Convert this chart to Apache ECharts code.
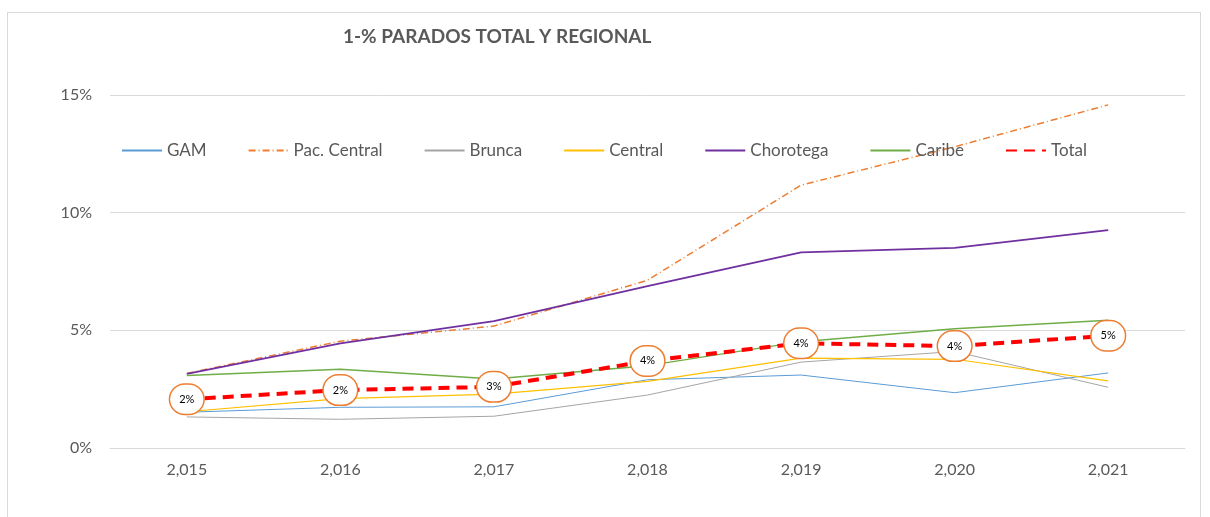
<!DOCTYPE html>
<html>
<head>
<meta charset="utf-8">
<script src="https://cdn.jsdelivr.net/npm/echarts@6/dist/echarts.min.js"></script>
<style>
  html, body { margin: 0; padding: 0; background: #fff; }
  #frame { position: absolute; left: 7px; top: 12px; width: 1194px; height: 520px; border: 1px solid #d9d9d9; box-sizing: border-box; }
  #main { position: absolute; left: 0; top: 0; width: 1210px; height: 517px; }
</style>
</head>
<body>
<div id="frame"></div>
<div id="main"></div>
<script>
// datos (porcentaje de parados)
var years = ['2,015', '2,016', '2,017', '2,018', '2,019', '2,020', '2,021'];
var gam = [1.52, 1.73, 1.75, 2.9, 3.1, 2.35, 3.19];
var pacCentral = [3.17, 4.54, 5.18, 7.13, 11.17, 12.8, 14.58];
var brunca = [1.32, 1.22, 1.35, 2.25, 3.65, 4.1, 2.58];
var central = [1.54, 2.1, 2.29, 2.83, 3.82, 3.77, 2.85];
var chorotega = [3.15, 4.45, 5.39, 6.88, 8.31, 8.5, 9.26];
var caribe = [3.08, 3.35, 2.93, 3.5, 4.52, 5.07, 5.43];
var total = [2.07, 2.46, 2.6, 3.7, 4.45, 4.33, 4.77];

var font = 'Lato, "Open Sans", sans-serif';

function linea(name, data, color, width, type) {
    return {
        name: name,
        type: 'line',
        data: data,
        symbol: 'none',
        silent: true,
        lineStyle: { color: color, width: width, type: type || 'solid' },
        itemStyle: { color: color }
    };
}

var myChart = echarts.init(document.getElementById('main'));
myChart.setOption({
    animation: false,
    textStyle: { fontFamily: font },
    title: {
        text: '1-% PARADOS TOTAL Y REGIONAL',
        left: 338,
        top: 22,
        textStyle: { fontFamily: font, fontSize: 19, fontWeight: 'bold', color: '#595959' }
    },
    legend: {
        left: 116,
        top: 137,
        itemWidth: 40,
        itemHeight: 14,
        itemGap: 41,
        itemStyle: { opacity: 0 },
        textStyle: { fontFamily: font, fontSize: 17, color: '#595959' },
        data: ['GAM', 'Pac. Central', 'Brunca', 'Central', 'Chorotega', 'Caribe', 'Total']
    },
    grid: { left: 110, right: 25, top: 95, bottom: 69 },
    xAxis: {
        type: 'category',
        data: years,
        boundaryGap: true,
        axisLine: { lineStyle: { color: '#d9d9d9', width: 1 } },
        axisTick: { show: false },
        axisLabel: { color: '#595959', fontSize: 16, fontFamily: font, margin: 14 }
    },
    yAxis: {
        type: 'value',
        min: 0,
        max: 15,
        interval: 5,
        axisLine: { show: false },
        axisTick: { show: false },
        splitLine: { lineStyle: { color: '#d9d9d9', width: 1 } },
        axisLabel: { color: '#595959', fontSize: 16, fontFamily: font, margin: 18, formatter: '{value}%' }
    },
    series: [
        linea('GAM', gam, '#5b9bd5', 1),
        linea('Pac. Central', pacCentral, '#ed7d31', 1.5, [7, 3, 1, 3]),
        linea('Brunca', brunca, '#a5a5a5', 1),
        linea('Central', central, '#ffc000', 1.2),
        linea('Chorotega', chorotega, '#7030a0', 1.8),
        linea('Caribe', caribe, '#70ad47', 1.5),
        {
            name: 'Total',
            type: 'line',
            data: total,
            z: 5,
            symbol: 'circle',
            symbolSize: 2,
            lineStyle: { color: '#ff0000', width: 4, type: [11, 7] },
            itemStyle: { color: '#ff0000' },
            label: {
                show: true,
                position: 'inside',
                formatter: function (p) { return Math.round(p.value) + '%'; },
                fontSize: 11,
                fontFamily: font,
                color: '#000',
                backgroundColor: '#fff',
                borderColor: '#ed7d31',
                borderWidth: 1.5,
                borderRadius: 16,
                padding: [9, 9]
            }
        }
    ]
});
</script>
</body>
</html>
